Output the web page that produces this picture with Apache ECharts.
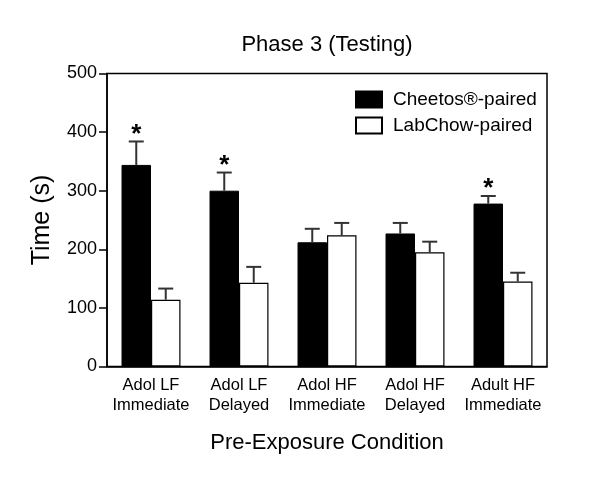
<!DOCTYPE html>
<html>
<head>
<meta charset="utf-8">
<script src="https://cdn.jsdelivr.net/npm/echarts@6/dist/echarts.min.js"></script>
<style>html,body{margin:0;padding:0;background:#fff}#c{width:600px;height:497px}</style>
</head>
<body>
<div id="c"></div>
<script>
const categories = ['Adol LF\nImmediate', 'Adol LF\nDelayed', 'Adol HF\nImmediate', 'Adol HF\nDelayed', 'Adult HF\nImmediate'];
const seriesNames = ['Cheetos®-paired', 'LabChow-paired'];
const cheetosMean = [344, 300, 212, 227, 278];
const cheetosSem = [40, 31, 23, 18, 13];
const labchowMean = [114, 143, 224, 195, 145];
const labchowSem = [19, 27, 21, 18, 15];
const cheetosSig = [1, 1, 0, 0, 1];
const yTicks = [0, 100, 200, 300, 400, 500];

const FONT = 'Liberation Sans, Arial, sans-serif';
const GAP = 0.33;

function errSeries(means, sems, sig, side) {
  return {
    type: 'custom',
    z: 5,
    silent: true,
    encode: { x: 0, y: [1, 2] },
    data: means.map((m, i) => [i, m, m + sems[i], sig ? sig[i] : 0]),
    renderItem: function (params, api) {
      const band = api.size([1, 0])[0];
      const bw = band * (1 - GAP) / 2;
      const cx = api.coord([api.value(0), 0])[0] + side * bw / 2;
      const y0 = api.coord([api.value(0), api.value(1)])[1];
      const y1 = api.coord([api.value(0), api.value(2)])[1];
      const hw = 7.5;
      const style = { stroke: '#333', lineWidth: 2 };
      const children = [
        { type: 'line', shape: { x1: cx, y1: y0, x2: cx, y2: y1 }, style: style },
        { type: 'line', shape: { x1: cx - hw, y1: y1, x2: cx + hw, y2: y1 }, style: style }
      ];
      if (api.value(3)) {
        children.push({
          type: 'text',
          style: { text: '*', x: cx, y: y1 + 6, textAlign: 'center', textVerticalAlign: 'bottom',
                   fontSize: 26, fontWeight: 'bold', fontFamily: FONT, fill: '#000' }
        });
      }
      return { type: 'group', children: children };
    }
  };
}

const chart = echarts.init(document.getElementById('c'));
chart.setOption({
  animation: false,
  backgroundColor: '#fff',
  title: {
    text: 'Phase 3 (Testing)',
    left: 327, top: 34, textAlign: 'center', padding: 0,
    textStyle: { fontFamily: FONT, fontSize: 22, fontWeight: 'normal', color: '#000' }
  },
  legend: {
    orient: 'vertical',
    left: 355, top: 90, padding: 0,
    itemWidth: 26, itemHeight: 16, itemGap: 7,
    icon: 'rect',
    data: seriesNames,
    textStyle: { fontFamily: FONT, fontSize: 19, color: '#000', padding: [0, 0, 0, 6] }
  },
  grid: {
    left: 107, right: 53, top: 73.5, bottom: 130.5,
    show: true, borderColor: '#000', borderWidth: 1.5, backgroundColor: 'transparent'
  },
  xAxis: {
    type: 'category',
    data: categories,
    axisLine: { lineStyle: { color: '#000', width: 1.5 } },
    axisTick: { show: false },
    axisLabel: { fontFamily: FONT, fontSize: 16.5, color: '#000', lineHeight: 20, margin: 9, interval: 0 },
    name: 'Pre-Exposure Condition',
    nameLocation: 'middle', nameGap: 65,
    nameTextStyle: { fontFamily: FONT, fontSize: 22, color: '#000' }
  },
  yAxis: {
    type: 'value',
    min: yTicks[0], max: yTicks[yTicks.length - 1], interval: 100,
    splitLine: { show: false },
    axisLine: { show: true, lineStyle: { color: '#000', width: 1.5 } },
    axisTick: { show: true, length: 8, lineStyle: { color: '#000', width: 1.5 } },
    axisLabel: { fontFamily: FONT, fontSize: 18, color: '#000', margin: 10 },
    name: 'Time (s)',
    nameLocation: 'middle', nameGap: 52, nameRotate: 90,
    nameTextStyle: { fontFamily: FONT, fontSize: 25, color: '#000' }
  },
  series: [
    {
      name: seriesNames[0], type: 'bar', data: cheetosMean,
      barGap: '0%', barCategoryGap: (GAP * 100) + '%',
      itemStyle: { color: '#000', borderColor: '#000', borderWidth: 1 }
    },
    {
      name: seriesNames[1], type: 'bar', data: labchowMean,
      itemStyle: { color: '#fff', borderColor: '#000', borderWidth: 1.2 }
    },
    errSeries(cheetosMean, cheetosSem, cheetosSig, -1),
    errSeries(labchowMean, labchowSem, null, 1)
  ]
});
</script>
</body>
</html>
